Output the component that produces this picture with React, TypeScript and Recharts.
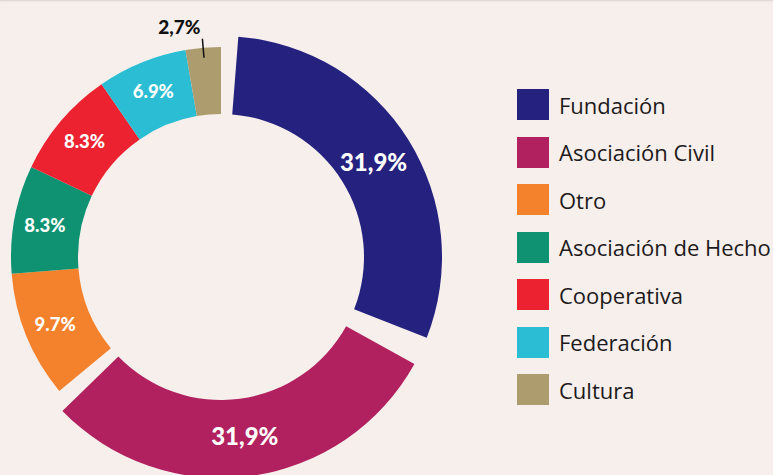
import { PieChart, Pie, Cell, Legend } from 'recharts'

const names = ['Fundación', 'Asociación Civil', 'Otro', 'Asociación de Hecho', 'Cooperativa', 'Federación', 'Cultura']
const shares = [31.9, 31.9, 9.7, 8.3, 8.3, 6.9, 2.7]
const shareLabels = ['31,9%', '31,9%', '9.7%', '8.3%', '8.3%', '6.9%', '2,7%']
const colors = ['#25217F', '#B2215F', '#F4812B', '#0F9272', '#EC2231', '#2ABDD3', '#AD9C6E']

// the two big slices are pulled out a little (bigger ring, gaps on both sides)
const bigCount = 2

const RADIAN = Math.PI / 180
const CX = 221
const CY = 257

const data = names.map((name, i) => ({ name, value: shares[i], label: shareLabels[i] }))
const bigData = data.slice(0, bigCount)
const total = shares.reduce((a, b) => a + b, 0)
const bigSweep = (shares[0] + shares[1]) / total * 360

function polar(cx: number, cy: number, r: number, angle: number) {
  return { x: cx + r * Math.cos(-angle * RADIAN), y: cy + r * Math.sin(-angle * RADIAN) }
}

function SmallLabel(props: any) {
  const { cx, cy, midAngle, outerRadius, index } = props
  if (index < bigCount) return null
  if (index === names.length - 1) {
    const a = polar(cx, cy, outerRadius - 10, midAngle)
    const b = polar(cx, cy, outerRadius + 9, midAngle)
    return (
      <g>
        <line x1={a.x} y1={a.y} x2={b.x} y2={b.y} stroke="#111" strokeWidth={1.5} />
        <text x={b.x - 2} y={b.y - 5} textAnchor="end" fill="#111"
          style={{ fontFamily: 'Lato', fontWeight: 900, fontSize: 19 }}>
          {shareLabels[index]}
        </text>
      </g>
    )
  }
  const p = polar(cx, cy, 179, midAngle)
  return (
    <text x={p.x} y={p.y} textAnchor="middle" dominantBaseline="central" fill="#fff"
      style={{ fontFamily: 'Lato', fontWeight: 900, fontSize: 18.5 }}>
      {shareLabels[index]}
    </text>
  )
}

function BigLabel(props: any) {
  const { cx, cy, midAngle, index } = props
  const p = polar(cx, cy, 180, midAngle)
  return (
    <text x={p.x} y={p.y} textAnchor="middle" dominantBaseline="central" fill="#fff"
      style={{ fontFamily: 'Lato', fontWeight: 900, fontSize: 24 }}>
      {shareLabels[index]}
    </text>
  )
}

function LegendList() {
  return (
    <div>
      {names.map((n, i) => (
        <div key={n} style={{ display: 'flex', alignItems: 'center', height: 31, marginBottom: 16.5 }}>
          <div style={{ width: 32, height: 31, background: colors[i], marginRight: 10, flexShrink: 0 }} />
          <span style={{ fontFamily: '"Open Sans"', fontSize: 22, color: '#1d1a1b', whiteSpace: 'nowrap' }}>{n}</span>
        </div>
      ))}
    </div>
  )
}

export default function App() {
  return (
    <div style={{
      position: 'absolute', left: 0, top: 0, width: 773, height: 475, overflow: 'hidden',
      background: '#F6EFEC', boxShadow: 'inset 0 2px 2px -1px rgba(0,0,0,0.12)',
    }}>
      <PieChart width={773} height={475} margin={{ top: 0, right: 0, bottom: 0, left: 0 }}>
        <Pie
          data={data}
          dataKey="value"
          nameKey="name"
          cx={CX}
          cy={CY}
          innerRadius={143}
          outerRadius={210}
          startAngle={90}
          endAngle={-270}
          stroke="none"
          label={SmallLabel}
          labelLine={false}
          isAnimationActive={false}
        >
          {data.map((d, i) => (
            <Cell key={d.name} fill={i < bigCount ? 'transparent' : colors[i]} />
          ))}
        </Pie>
        <Pie
          data={bigData}
          dataKey="value"
          nameKey="name"
          cx={CX}
          cy={CY}
          innerRadius={143}
          outerRadius={221}
          startAngle={90 - 4.5}
          endAngle={90 - bigSweep + 4.5}
          paddingAngle={7.5}
          stroke="none"
          label={BigLabel}
          labelLine={false}
          isAnimationActive={false}
        >
          {bigData.map((d, i) => (
            <Cell key={d.name} fill={colors[i]} />
          ))}
        </Pie>
        <Legend
          layout="vertical"
          align="right"
          verticalAlign="top"
          content={<LegendList />}
          wrapperStyle={{ left: 517, top: 89, width: 256 }}
        />
      </PieChart>
    </div>
  )
}
